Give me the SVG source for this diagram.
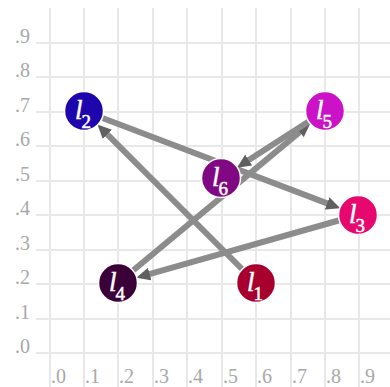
<svg xmlns="http://www.w3.org/2000/svg" width="390" height="387" viewBox="0 0 390 387">
<defs>
<style>
.grid line{stroke:#e8e8e8;stroke-width:2}
.ax{font-family:"Liberation Serif","DejaVu Serif",serif;font-size:20px;fill:#a8a8a8}
.edge{stroke:#8c8c8c;stroke-width:6;fill:none;marker-end:url(#arr)}
.node circle{stroke:#ffffff;stroke-width:1.5}
.lab{font-family:"Liberation Serif","DejaVu Serif",serif;fill:#ffffff;stroke:#ffffff;stroke-width:0.5}
.l{font-style:italic;font-size:27px}
.s{font-size:19px}
</style>
<marker id="arr" markerUnits="userSpaceOnUse" markerWidth="14" markerHeight="13" refX="5" refY="6.5" orient="auto">
<path d="M0,0 L14,6.5 L0,13 z" fill="#606060"/>
</marker>
</defs>
<rect width="390" height="387" fill="#ffffff"/>
<g class="grid">
<line x1="50" y1="8" x2="50" y2="387"/>
<line x1="84" y1="8" x2="84" y2="387"/>
<line x1="118" y1="8" x2="118" y2="387"/>
<line x1="153" y1="8" x2="153" y2="387"/>
<line x1="187" y1="8" x2="187" y2="387"/>
<line x1="222" y1="8" x2="222" y2="387"/>
<line x1="256" y1="8" x2="256" y2="387"/>
<line x1="291" y1="8" x2="291" y2="387"/>
<line x1="325" y1="8" x2="325" y2="387"/>
<line x1="359" y1="8" x2="359" y2="387"/>
<line x1="36" y1="43" x2="390" y2="43"/>
<line x1="36" y1="77" x2="390" y2="77"/>
<line x1="36" y1="112" x2="390" y2="112"/>
<line x1="36" y1="146" x2="390" y2="146"/>
<line x1="36" y1="181" x2="390" y2="181"/>
<line x1="36" y1="215" x2="390" y2="215"/>
<line x1="36" y1="250" x2="390" y2="250"/>
<line x1="36" y1="284" x2="390" y2="284"/>
<line x1="36" y1="319" x2="390" y2="319"/>
<line x1="36" y1="353" x2="390" y2="353"/>
</g>
<g id="axis-labels" class="ax">
<text x="15" y="43">.9</text>
<text x="15" y="77">.8</text>
<text x="15" y="112">.7</text>
<text x="15" y="146">.6</text>
<text x="15" y="181">.5</text>
<text x="15" y="215">.4</text>
<text x="15" y="250">.3</text>
<text x="15" y="284">.2</text>
<text x="15" y="319">.1</text>
<text x="15" y="353">.0</text>
<text x="51" y="383">.0</text>
<text x="85" y="383">.1</text>
<text x="119" y="383">.2</text>
<text x="154" y="383">.3</text>
<text x="188" y="383">.4</text>
<text x="223" y="383">.5</text>
<text x="257" y="383">.6</text>
<text x="292" y="383">.7</text>
<text x="326" y="383">.8</text>
<text x="360" y="383">.9</text>
</g>
<g id="connectors">
<line class="edge" x1="256" y1="283" x2="103.8" y2="130.8"/>
<line class="edge" x1="84" y1="111" x2="331.8" y2="205.1"/>
<line class="edge" x1="358" y1="215" x2="144.9" y2="275.4"/>
<line class="edge" x1="118" y1="283" x2="303.5" y2="128.9"/>
<line class="edge" x1="325" y1="111" x2="244.5" y2="162.8"/>
</g>
<g id="l1" class="node"><circle cx="256" cy="283" r="19.5" fill="#a8002e"/><text class="lab" x="247" y="291"><tspan class="l">l</tspan><tspan class="s" dx="-1" dy="9">1</tspan></text></g>
<g id="l2" class="node"><circle cx="84" cy="111" r="19.5" fill="#1c06ac"/><text class="lab" x="75" y="119"><tspan class="l">l</tspan><tspan class="s" dx="-1" dy="9">2</tspan></text></g>
<g id="l3" class="node"><circle cx="358" cy="215" r="19.5" fill="#e6086c"/><text class="lab" x="349" y="223"><tspan class="l">l</tspan><tspan class="s" dx="-1" dy="9">3</tspan></text></g>
<g id="l4" class="node"><circle cx="118" cy="283" r="19.5" fill="#3c0038"/><text class="lab" x="109" y="291"><tspan class="l">l</tspan><tspan class="s" dx="-1" dy="9">4</tspan></text></g>
<g id="l5" class="node"><circle cx="325" cy="111" r="19.5" fill="#cc12c6"/><text class="lab" x="316" y="119"><tspan class="l">l</tspan><tspan class="s" dx="-1" dy="9">5</tspan></text></g>
<g id="l6" class="node"><circle cx="221" cy="178" r="19.5" fill="#800882"/><text class="lab" x="212" y="186"><tspan class="l">l</tspan><tspan class="s" dx="-1" dy="9">6</tspan></text></g>
</svg>
